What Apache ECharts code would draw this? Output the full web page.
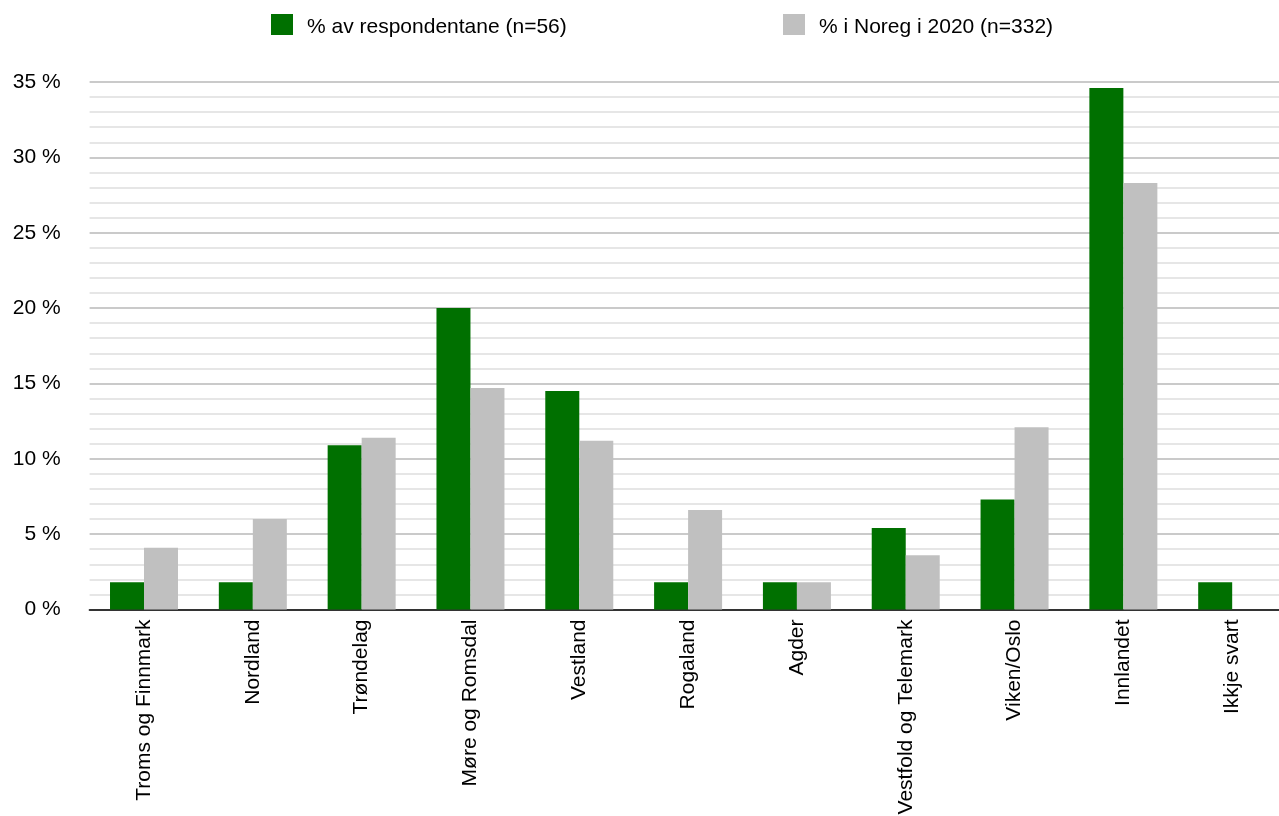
<!DOCTYPE html>
<html>
<head>
<meta charset="utf-8">
<script src="https://cdn.jsdelivr.net/npm/echarts@6/dist/echarts.min.js"></script>
<style>
html,body{margin:0;padding:0;background:#fff;}
#chart{width:1279px;height:816px;}
</style>
</head>
<body>
<div id="chart"></div>
<script>
const categories = ["Troms og Finnmark","Nordland","Trøndelag","Møre og Romsdal","Vestland","Rogaland","Agder","Vestfold og Telemark","Viken/Oslo","Innlandet","Ikkje svart"];
const seriesNames = ["% av respondentane (n=56)","% i Noreg i 2020 (n=332)"];
const respondentValues = [1.8, 1.8, 10.9, 20.0, 14.5, 1.8, 1.8, 5.4, 7.3, 34.6, 1.8];
const norwayValues = [4.1, 6.0, 11.4, 14.7, 11.2, 6.6, 1.8, 3.6, 12.1, 28.3, null];
const yTicks = [0, 5, 10, 15, 20, 25, 30, 35];

const font = '"Liberation Sans", Arial, Helvetica, sans-serif';
const legendText = {fontSize: 21, color: '#000', fontFamily: font, padding: [0,0,0,9],
  rich: {a: {fontSize: 21, color: '#000', fontFamily: font, padding: [6,0,0,0]}}};
const chart = echarts.init(document.getElementById('chart'), null, {renderer: 'canvas'});
chart.setOption({
  animation: false,
  textStyle: {fontFamily: font},
  legend: [
    {data: [seriesNames[0]], left: 271, top: 14, padding: 0, itemWidth: 22, itemHeight: 21, icon: 'rect',
     formatter: '{a|{name}}', textStyle: legendText},
    {data: [seriesNames[1]], left: 783, top: 14, padding: 0, itemWidth: 22, itemHeight: 21, icon: 'rect',
     formatter: '{a|{name}}', textStyle: legendText}
  ],
  grid: {left: 89.6, width: 1197, top: 82, height: 527.5, containLabel: false, outerBoundsMode: 'none'},
  xAxis: {
    type: 'category',
    data: categories,
    axisLine: {show: true, lineStyle: {color: '#333', width: 2}},
    axisTick: {show: false},
    axisLabel: {rotate: 90, margin: 10, fontSize: 21, color: '#000', fontFamily: font, interval: 0}
  },
  yAxis: {
    type: 'value',
    min: yTicks[0],
    max: yTicks[yTicks.length - 1],
    interval: 5,
    axisLine: {show: false},
    axisTick: {show: false},
    axisLabel: {formatter: v => v + ' %', fontSize: 21, color: '#000', margin: 29, fontFamily: font},
    splitLine: {show: true, lineStyle: {color: '#b9b9b9', width: 1.5}},
    minorTick: {show: false, splitNumber: 5},
    minorSplitLine: {show: true, lineStyle: {color: '#dedede', width: 1.5}}
  },
  series: [
    {name: seriesNames[0], type: 'bar', data: respondentValues, barWidth: 34, barGap: '0%',
     itemStyle: {color: '#007000'}},
    {name: seriesNames[1], type: 'bar', data: norwayValues, barWidth: 34, barGap: '0%',
     itemStyle: {color: '#c0c0c0'}}
  ]
});
</script>
</body>
</html>
